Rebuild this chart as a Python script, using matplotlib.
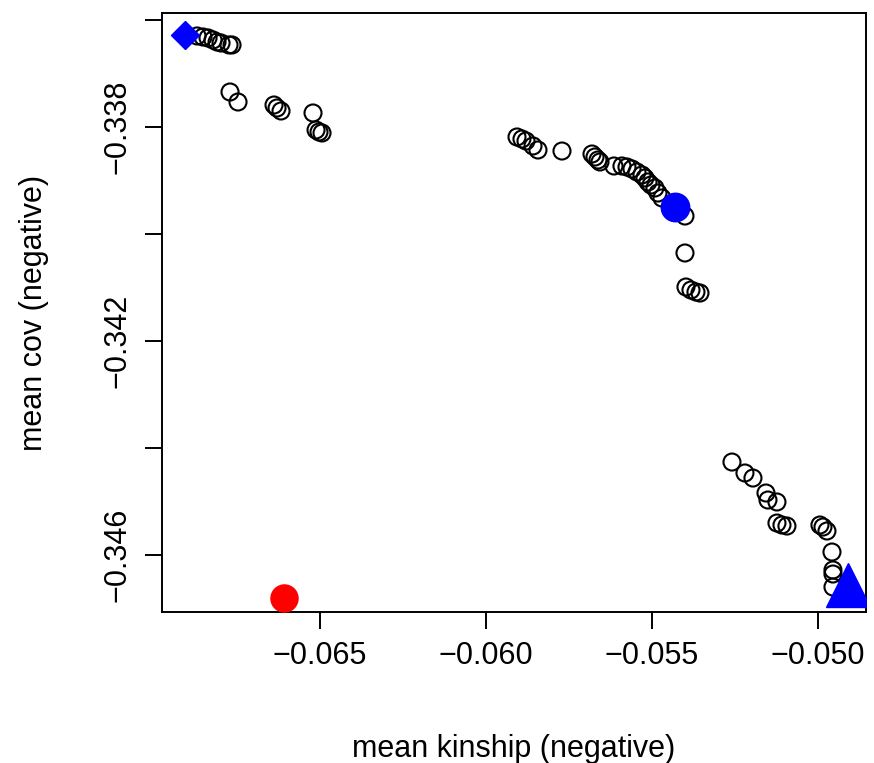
import matplotlib
matplotlib.use("Agg")
import matplotlib.pyplot as plt

plt.rcParams["font.family"] = ["Liberation Sans", "DejaVu Sans"]

# open circles: mean kinship (negative) vs mean cov (negative)
kinship = [
    -0.068705, -0.068524, -0.068373, -0.068223, -0.068102, -0.067982, -0.067741, -0.067651,
    -0.067711, -0.067470, -0.066386, -0.066295, -0.066175, -0.065211, -0.065120, -0.065030, -0.064940,
    -0.059066, -0.058916, -0.058795, -0.058584, -0.058434, -0.057711, -0.056807, -0.056717, -0.056627, -0.056566,
    -0.056145, -0.055904, -0.055753, -0.055602, -0.055452, -0.055301, -0.055211, -0.055120, -0.055030,
    -0.054910, -0.054819, -0.054699, -0.054006,
    -0.054006, -0.053976, -0.053825, -0.053675, -0.053554,
    -0.052590, -0.052199, -0.051958, -0.051566, -0.051506, -0.051235, -0.051235, -0.051084, -0.050934,
    -0.049940, -0.049849, -0.049729, -0.049578, -0.049548, -0.049548, -0.049548,
]
cov = [
    -0.336299, -0.336318, -0.336336, -0.336374, -0.336411, -0.336430, -0.336467, -0.336467,
    -0.337346, -0.337533, -0.337589, -0.337645, -0.337701, -0.337738, -0.338056, -0.338093, -0.338112,
    -0.338187, -0.338224, -0.338262, -0.338355, -0.338430, -0.338449, -0.338505, -0.338561, -0.338617, -0.338654,
    -0.338729, -0.338729, -0.338748, -0.338785, -0.338841, -0.338897, -0.338953, -0.339028, -0.339084,
    -0.339140, -0.339234, -0.339327, -0.339664,
    -0.340355, -0.340991, -0.341047, -0.341084, -0.341103,
    -0.344262, -0.344467, -0.344561, -0.344841, -0.344972, -0.345009, -0.345402, -0.345439, -0.345458,
    -0.345439, -0.345477, -0.345551, -0.345944, -0.346280, -0.346355, -0.346598,
]

# highlighted solutions
diamond = (-0.069066, -0.336280)
triangle = (-0.049096, -0.346561)
blue_dot = (-0.054307, -0.339495)
red_dot = (-0.066084, -0.346804)

x_ticks = [-0.065, -0.060, -0.055, -0.050]
x_labels = ["\u22120.065", "\u22120.060", "\u22120.055", "\u22120.050"]
y_ticks = [-0.336, -0.338, -0.340, -0.342, -0.344, -0.346]
y_labels = ["", "\u22120.338", "", "\u22120.342", "", "\u22120.346"]

fig = plt.figure(figsize=(8.74, 7.63), dpi=100)
ax = fig.add_axes([0.1854, 0.1979, 0.8054, 0.7851])

ax.scatter(kinship, cov, s=150, facecolors="none", edgecolors="black", linewidths=1.5, zorder=2)
ax.plot(*diamond, marker="D", markersize=14, color="blue", linestyle="none", zorder=3)
ax.plot(*triangle, marker="^", markersize=31, color="blue", linestyle="none", zorder=3)
ax.plot(*blue_dot, marker="o", markersize=20.5, color="blue", linestyle="none", zorder=3)
ax.plot(*red_dot, marker="o", markersize=19.5, color="red", linestyle="none", zorder=3)

ax.set_xlim(-0.069759, -0.048554)
ax.set_ylim(-0.347065, -0.335869)

ax.set_xticks(x_ticks)
ax.set_xticklabels(x_labels)
ax.set_yticks(y_ticks)
ax.set_yticklabels(y_labels, rotation=90, va="center")
ax.tick_params(axis="both", length=12, width=1.4, labelsize=22, pad=9)

for spine in ax.spines.values():
    spine.set_linewidth(1.4)

ax.set_xlabel("mean kinship (negative)", fontsize=22, labelpad=45)
ax.set_ylabel("mean cov (negative)", fontsize=22, labelpad=39)

fig.savefig("out.png", dpi=100)
